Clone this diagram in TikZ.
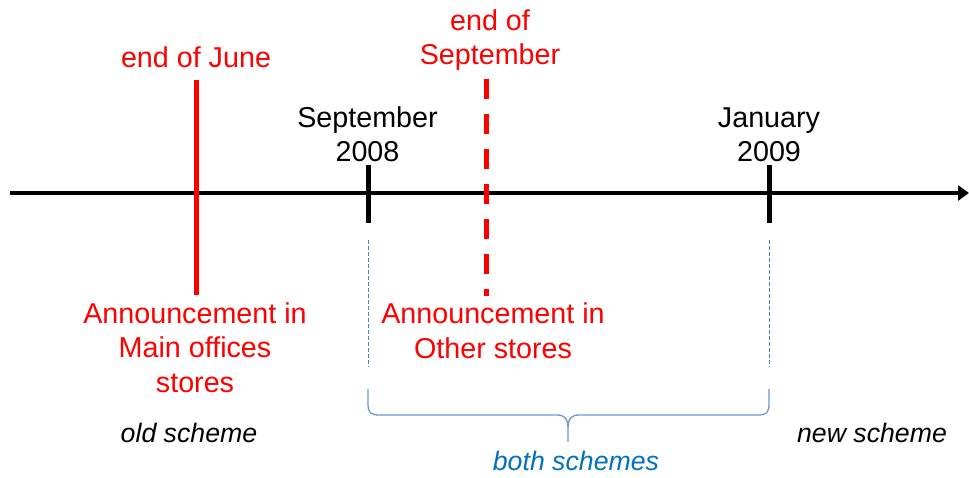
\documentclass[tikz,border=0pt]{standalone}
\usepackage{fontspec}
\setmainfont{Liberation Sans}
\usetikzlibrary{arrows.meta}
\definecolor{markred}{HTML}{FF0000}
\definecolor{schemeblue}{HTML}{0070C0}
\definecolor{bracecol}{HTML}{6A98D4}
\definecolor{guidecol}{HTML}{4F81BD}
\begin{document}
\begin{tikzpicture}[x=1pt,y=-1pt,
  lbl/.style={font=\fontsize{28.7}{34.5}\selectfont, inner sep=0pt, anchor=base, align=center},
  redlbl/.style={lbl, text=markred},
  span/.style={font=\fontsize{26.7}{32}\selectfont\itshape, inner sep=0pt, anchor=base},
  axisline/.style={line width=4.5pt, -{Triangle[length=11pt,width=15pt]}},
  tickline/.style={line width=5pt},
  guide/.style={draw=guidecol, line width=0.9pt, dash pattern=on 4pt off 2pt},
  marker/.style={draw=markred, line width=5pt},
  dmarker/.style={marker, dash pattern=on 20pt off 15pt},
  bracket/.style={draw=bracecol, line width=1.3pt}]
\useasboundingbox (0,0) rectangle (969,478);

% time axis
\coordinate (axL) at (10,193);
\coordinate (axR) at (969,193);
\draw[axisline] (axL) -- (axR);

% date ticks
\coordinate (sepT) at (368,165);
\coordinate (sepB) at (368,223);
\coordinate (janT) at (769,165);
\coordinate (janB) at (769,223);
\draw[tickline] (sepT) -- (sepB);
\draw[tickline] (janT) -- (janB);

% thin guides below the ticks
\coordinate (sepG1) at (368,240);
\coordinate (sepG2) at (368,367);
\coordinate (janG1) at (769,240);
\coordinate (janG2) at (769,367);
\draw[guide] (sepG1) -- (sepG2);
\draw[guide] (janG1) -- (janG2);

% announcement markers
\coordinate (juneT) at (196,80);
\coordinate (juneB) at (196,295);
\coordinate (septT) at (486,79);
\coordinate (septB) at (486,296);
\draw[marker] (juneT) -- (juneB);
\draw[dmarker] (septT) -- (septB);

% labels (anchored at the baseline of their last line)
\node[redlbl] (june) at (196,68) {end of June};
\node[redlbl] (sept) at (490,65) {end of\\September};
\node[lbl] (sep08) at (367.5,162) {September\\2008};
\node[lbl] (jan09) at (769,162) {January\\2009};
\node[redlbl] (annMain) at (195,392) {Announcement in\\Main offices\\stores};
\node[redlbl] (annOther) at (493,358) {Announcement in\\Other stores};
\node[span] (old) at (189,442) {old scheme};
\node[span] (new) at (872,442) {new scheme};
\node[span, text=schemeblue] (both) at (576,470) {both schemes};

% brace over the overlap period
\draw[bracket] (368,389) -- (368,403) .. controls (368,413) and (370,415) .. (380,415)
  -- (556,415) .. controls (565,415) and (568,418) .. (568,430) -- (568,442)
  -- (568,430) .. controls (568,418) and (571,415) .. (580,415)
  -- (757,415) .. controls (767,415) and (769,413) .. (769,403) -- (769,389);
\end{tikzpicture}
\end{document}
